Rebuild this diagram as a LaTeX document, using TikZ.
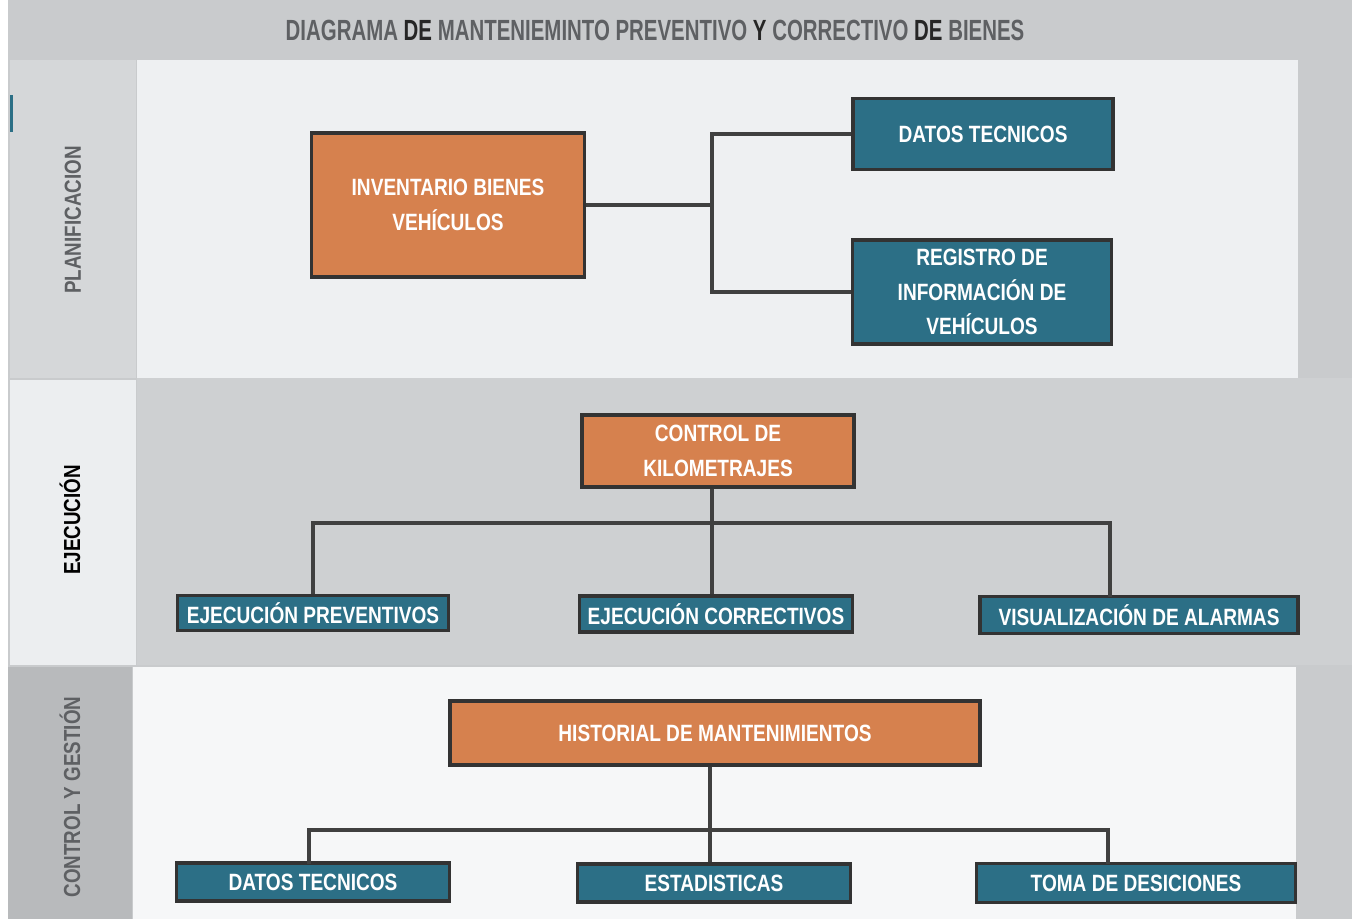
\documentclass[tikz,border=0pt]{standalone}
\usepackage{fontspec}
\usepackage{tikz}
\newfontfamily\boxfont[FakeStretch=0.81]{Liberation Sans}
\newfontfamily\titlefont[FakeStretch=0.7]{Liberation Sans}
\definecolor{orangec}{HTML}{D6814E}
\definecolor{tealc}{HTML}{2C6F86}
\definecolor{outerc}{HTML}{C9CBCD}
\definecolor{palec}{HTML}{EEF0F2}
\definecolor{midc}{HTML}{CED0D2}
\definecolor{labelone}{HTML}{D5D7D9}
\definecolor{labeltwo}{HTML}{ECEEF0}
\definecolor{labelthree}{HTML}{B8BABC}
\definecolor{whitec}{HTML}{F6F7F8}
\definecolor{textgrey}{HTML}{5E6063}

\begin{document}
\begin{tikzpicture}[x=0.01cm,y=-0.01cm,line width=1.1pt,
  box/.style={rectangle,draw=black!80,line width=1pt,text=white,align=center,inner sep=0pt,
    font=\boxfont\bfseries\fontsize{6.7}{9.8}\selectfont},
  orange node/.style={box,fill=orangec},
  teal node/.style={box,fill=tealc},
  side label/.style={rotate=90,font=\boxfont\bfseries\fontsize{6.6}{8}\selectfont,text=textgrey},
  link/.style={draw=black!75,line width=1.1pt}]
  \useasboundingbox (0,0) rectangle (1352,919);
  \fill[white] (0,0) rectangle (1352,919);
  \fill[outerc] (8,0) rectangle (1352,919);
  \fill[labelone] (10,60) rectangle (136,378);
  \fill[palec] (137,60) rectangle (1298,378);
  \fill[labeltwo] (10,380) rectangle (136,665);
  \fill[midc] (137,378) rectangle (1352,665);
  \fill[labelthree] (8,667) rectangle (132,919);
  \fill[whitec] (133,667) rectangle (1296,919);
  \fill[tealc] (10,95) rectangle (13,132);

  \node[font=\titlefont\bfseries\fontsize{8.3}{9}\selectfont,text=textgrey] (title) at (655,30)
    {DIAGRAMA \textcolor{black!85}{DE} MANTENIEMINTO PREVENTIVO \textcolor{black!85}{Y} CORRECTIVO \textcolor{black!85}{DE} BIENES};

  \node[side label] (plan) at (73,220) {PLANIFICACION};
  \node[side label,text=black] (ejec) at (70,520) {EJECUCIÓN};
  \node[side label] (ctrl) at (70,797) {CONTROL Y GESTIÓN};

  \node[orange node,minimum width=2.73cm,minimum height=1.44cm] (inv) at (448,205) {INVENTARIO BIENES\\VEHÍCULOS};
  \node[teal node,minimum width=2.6cm,minimum height=0.71cm] (dt1) at (983,134) {DATOS TECNICOS};
  \node[teal node,minimum width=2.59cm,minimum height=1.04cm] (reg) at (982,292) {REGISTRO DE\\INFORMACIÓN DE\\VEHÍCULOS};

  \node[orange node,minimum width=2.72cm,minimum height=0.72cm] (ckm) at (718,451) {CONTROL DE\\KILOMETRAJES};
  \node[teal node,minimum width=2.71cm,minimum height=0.35cm] (ep) at (313,613) {EJECUCIÓN PREVENTIVOS};
  \node[teal node,minimum width=2.73cm,minimum height=0.36cm] (ec) at (716,614) {EJECUCIÓN CORRECTIVOS};
  \node[teal node,minimum width=3.18cm,minimum height=0.37cm] (va) at (1139,615) {VISUALIZACIÓN DE ALARMAS};

  \node[orange node,minimum width=5.3cm,minimum height=0.64cm] (hist) at (715,733) {HISTORIAL DE MANTENIMIENTOS};
  \node[teal node,minimum width=2.73cm,minimum height=0.38cm] (dt2) at (313,882) {DATOS TECNICOS};
  \node[teal node,minimum width=2.73cm,minimum height=0.38cm] (est) at (714,883) {ESTADISTICAS};
  \node[teal node,minimum width=3.19cm,minimum height=0.39cm] (toma) at (1136,883) {TOMA DE DESICIONES};

  \coordinate (j1) at (712,205);
  \coordinate (j2) at (712,523);
  \coordinate (v3) at (1110,597);
  \coordinate (j3) at (710,830);
  \coordinate (w1) at (309,864);
  \coordinate (w3) at (1108,864);

  \path[link] (inv.east) -- (inv.east -| j1);
  \path[link] (dt1.west) -| (j1) |- (reg.west);
  \path[link] (ckm.south -| j2) -- (ec.north -| j2);
  \path[link] (ep.north) |- (j2) -| (v3);
  \path[link] (hist.south -| j3) -- (est.north -| j3);
  \path[link] (w1) |- (j3) -| (w3);
\end{tikzpicture}
\end{document}
